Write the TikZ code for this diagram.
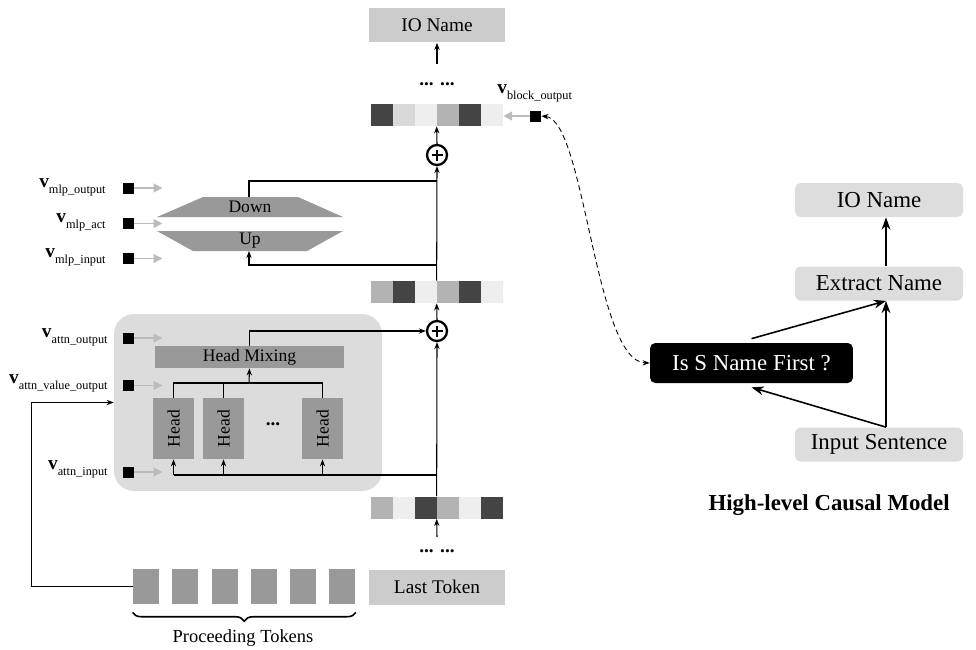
\documentclass[tikz,border=0pt]{standalone}
\usepackage{fontspec}
\setmainfont{Liberation Serif}
\usetikzlibrary{positioning,calc,arrows.meta,decorations.pathreplacing}

\definecolor{cdark}{HTML}{444444}
\definecolor{cmid}{HTML}{B3B3B3}
\definecolor{clight}{HTML}{D9D9D9}
\definecolor{cpale}{HTML}{EEEEEE}
\definecolor{cblock}{HTML}{999999}
\definecolor{cbox}{HTML}{CCCCCC}
\definecolor{cattn}{HTML}{DCDCDC}
\definecolor{chigh}{HTML}{DDDDDD}
\definecolor{cprobe}{HTML}{BBBBBB}

% probe label: bold v with a lowered name
\newcommand{\vname}[1]{{\fontsize{11}{12}\selectfont\bfseries v}\raisebox{-3.5pt}{\fontsize{7}{8}\selectfont #1}}

\tikzset{
  box/.style={fill=cbox, minimum width=2.74cm, minimum height=0.7cm, inner sep=0pt},
  cell/.style={minimum size=0.44cm, inner sep=0pt},
  head/.style={fill=cblock, minimum width=0.82cm, minimum height=1.22cm, inner sep=0pt},
  token/.style={fill=cblock, minimum width=0.52cm, minimum height=0.7cm, inner sep=0pt},
  probe/.style={fill=black, minimum size=0.22cm, inner sep=0pt},
  probearrow/.style={-{Triangle[length=5pt,width=5pt]}, cprobe, line width=1pt},
  wire/.style={line width=0.6pt},
  plus/.style={circle, draw, line width=1.3pt, minimum size=0.4cm, inner sep=0pt,
    path picture={\draw[line width=0.9pt] (path picture bounding box.center) +(-5.5,0) -- +(5.5,0)
      (path picture bounding box.center) +(0,-5.5) -- +(0,5.5);}},
  highbox/.style={fill=chigh, rounded corners=3pt, minimum width=3.36cm, minimum height=0.68cm,
    inner sep=0pt, font=\fontsize{13}{15}\selectfont},
  causal/.style={-{Stealth[length=7pt,width=5pt]}, line width=0.9pt},
}

\begin{document}
\begin{tikzpicture}[x=0.02cm, y=-0.02cm, >={Stealth[length=4pt,width=3pt]},
  every node/.style={font=\fontsize{11}{13}\selectfont}]
\useasboundingbox (0,0) rectangle (976,649);

% attention block background
\node[fill=cattn, rounded corners=0.4cm, minimum width=5.36cm, minimum height=3.54cm] (attn) at (248,402.5) {};

% residual stream vectors
\foreach \c [count=\i] in {cdark,clight,cpale,cmid,cdark,cpale}
  \node[cell, fill=\c] (top\i) at (360+22*\i,115) {};
\foreach \c [count=\i] in {cmid,cdark,cpale,cmid,cdark,cpale}
  \node[cell, fill=\c] (mid\i) at (360+22*\i,292) {};
\foreach \c [count=\i] in {cmid,cpale,cdark,cmid,cpale,cdark}
  \node[cell, fill=\c] (low\i) at (360+22*\i,507.5) {};

% output and input
\node[box] (iotop) at (437,25) {IO Name};
\node[font=\fontsize{11}{13}\selectfont\bfseries] (dotstop) at (437,84) {... ...};
\node[box] (last) at (437,587) {Last Token};
\node[font=\fontsize{11}{13}\selectfont\bfseries] (dotslow) at (437,551) {... ...};
\coordinate (ioin) at (437,64);
\coordinate (lowin) at (437,537);
\draw[wire,->] (ioin) -- (iotop.south);
\draw[wire,->] (lowin) -- (low4.south west);

% MLP
\fill[cblock] (203,197) -- (298,197) -- (343,217) -- (157,217) -- cycle;
\fill[cblock] (157,231) -- (343,231) -- (307,251) -- (193,251) -- cycle;
\node[font=\fontsize{10}{12}\selectfont] (down) at (250,207) {Down};
\node[font=\fontsize{10}{12}\selectfont] (up) at (250,241) {Up};
\coordinate (downtop) at (249,197);
\coordinate (upbot) at (249,251);
\coordinate (mlpin) at (437,265);
\coordinate (mlpout) at (437,181);

\node[plus] (plus1) at (437,155) {};
\node[plus] (plus2) at (437,331) {};

\draw[wire,->] (mid4.north west) -- (plus1.south);
\draw[wire,->] (plus1.north) -- (top4.south west);
\draw[wire,->] (mlpin) -| (upbot);
\draw[wire] (downtop) |- (mlpout);

% attention heads
\node[fill=cblock, minimum width=3.78cm, minimum height=0.44cm, inner sep=0pt,
  font=\fontsize{10}{12}\selectfont] (mix) at (249.5,357) {Head Mixing};
\node[head] (head1) at (173.5,428.5) {\rotatebox{90}{\fontsize{10}{12}\selectfont Head}};
\node[head] (head2) at (223.5,428.5) {\rotatebox{90}{\fontsize{10}{12}\selectfont Head}};
\node[head] (head3) at (322.5,428.5) {\rotatebox{90}{\fontsize{10}{12}\selectfont Head}};
\node[font=\fontsize{11}{13}\selectfont\bfseries] (hdots) at (273,424) {...};
\coordinate (attnin) at (437,475);
\coordinate (hjoin) at (249,383);

\draw[wire,->] (low4.north west) -- (plus2.south);
\draw[wire,->] (plus2.north) -- (mid4.south west);
\draw[wire] (attnin) -- (attnin -| head1.south);
\foreach \h in {head1,head2,head3}
  \draw[wire,->] (attnin -| \h.south) -- (\h.south);
\draw[wire] (head1.north) |- (head3.north |- hjoin) -- (head3.north);
\draw[wire] (head2.north) -- (head2.north |- hjoin);
\draw[wire,->] (hjoin) -- (mix.south);
\draw[wire,->] (mix.north) |- (plus2.west);

% proceeding tokens
\node[token] (tok1) at (146,586.5) {};
\foreach \i [remember=\i as \j (initially 1)] in {2,...,6}
  \node[token, right=0.252cm of tok\j] (tok\i) {};
\draw[decorate, decoration={brace, mirror, amplitude=5pt}, line width=0.9pt]
  ([yshift=-0.16cm]tok1.south west) -- ([yshift=-0.16cm]tok6.south east);
\node[font=\fontsize{10.5}{12}\selectfont] (proc) at (243,638) {Proceeding Tokens};
\draw[wire,->] (tok1.west) -- ++(-101,0) |- (attn.west);

% probes
\node[probe] (pmo) at (128.5,188) {};
\node[probe] (pma) at (128.5,223.5) {};
\node[probe] (pmi) at (128.5,258.5) {};
\node[probe] (pao) at (128.5,338) {};
\node[probe] (pav) at (128.5,385.5) {};
\node[probe] (pai) at (128.5,472) {};
\node[probe] (pbo) at (535.5,116) {};
\foreach \p in {pmo,pma,pmi,pao,pav,pai}
  \draw[probearrow] (\p.east) -- ++(28,0);
\draw[probearrow] (pbo.west) -- (top6.east |- pbo);

\node[anchor=east, inner sep=0pt] (lmo) at (106,187) {\vname{mlp\_output}};
\node[anchor=east, inner sep=0pt] (lma) at (106,222) {\vname{mlp\_act}};
\node[anchor=east, inner sep=0pt] (lmi) at (106,257) {\vname{mlp\_input}};
\node[anchor=east, inner sep=0pt] (lao) at (108,337) {\vname{attn\_output}};
\node[anchor=east, inner sep=0pt] (lav) at (108,383) {\vname{attn\_value\_output}};
\node[anchor=east, inner sep=0pt] (lai) at (108,469) {\vname{attn\_input}};
\node[anchor=west, inner sep=0pt] (lbo) at (497,93) {\vname{block\_output}};

% high-level causal model
\node[highbox] (iorhs) at (879,200) {IO Name};
\node[highbox] (extract) at (879,283.5) {Extract Name};
\node[highbox] (input) at (879,444.5) {Input Sentence};
\node[fill=black, text=white, rounded corners=3pt, minimum width=4.06cm, minimum height=0.8cm,
  inner sep=0pt, font=\fontsize{13}{15}\selectfont] (isfirst) at (751.5,363) {Is S Name First ?};
\node[anchor=east, font=\fontsize{13}{15}\selectfont\bfseries, inner sep=0pt] (caption) at (950,505) {High-level Causal Model};

\draw[causal] ([xshift=0.14cm]extract.north) -- ([xshift=0.14cm]iorhs.south);
\draw[causal] ([xshift=0.14cm]input.north) -- ([xshift=0.14cm]extract.south);
\draw[causal] ([xshift=0.14cm]input.north) -- ([yshift=-0.08cm]isfirst.south);
\draw[causal] ([yshift=0.08cm]isfirst.north) -- ([xshift=0.14cm]extract.south);

% intervention link
\draw[densely dashed, line width=0.5pt, {Stealth[length=4pt,width=3pt]}-{Stealth[length=4pt,width=3pt]}]
  (pbo.east) .. controls (585,120) and (595,362) .. (isfirst.west);
\end{tikzpicture}
\end{document}
